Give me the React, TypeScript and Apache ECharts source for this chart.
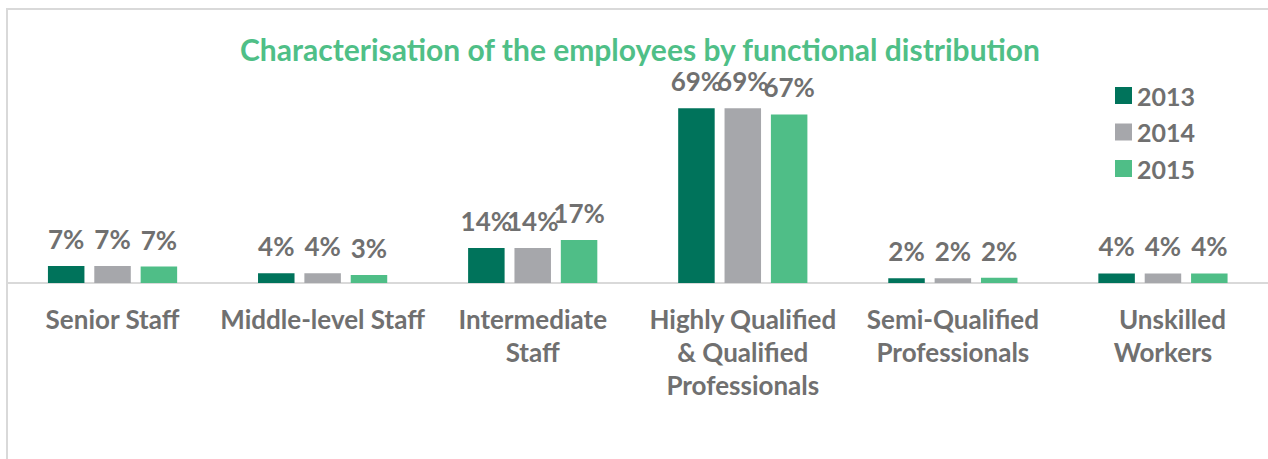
import React, { useEffect, useRef } from "react";
import * as echarts from "echarts";

const categories = [
  "Senior Staff",
  "Middle-level Staff",
  "Intermediate\nStaff",
  "Highly Qualified\n& Qualified\nProfessionals",
  "Semi-Qualified\nProfessionals",
  "   Unskilled\nWorkers",
];
const seriesNames = ["2013", "2014", "2015"];
const values2013 = [6.7, 3.9, 13.8, 69.0, 1.9, 3.8];
const values2014 = [6.7, 3.9, 13.8, 69.0, 1.9, 3.8];
const values2015 = [6.5, 3.2, 17.0, 66.6, 2.1, 3.8];
const colors = ["#00735B", "#A6A7AB", "#4FBE87"];
const titleText = "Characterisation of the employees by functional distribution";

const FONT = "Lato, 'Open Sans', sans-serif";
const GRAY = "#707070";

export default function App() {
  const ref = useRef<HTMLDivElement>(null);
  useEffect(() => {
    if (!ref.current) return;
    const chart = echarts.init(ref.current, null, { renderer: "svg" });
    const data = [values2013, values2014, values2015];
    chart.setOption({
      animation: false,
      backgroundColor: "#ffffff",
      textStyle: { fontFamily: FONT },
      title: {
        text: titleText,
        left: 635,
        textAlign: "center",
        top: 29,
        textStyle: { color: "#4FBF87", fontSize: 30, fontWeight: "bold", fontFamily: FONT },
      },
      legend: {
        orient: "vertical",
        left: 1110,
        top: 78,
        itemWidth: 17,
        itemHeight: 17,
        itemGap: 11.5,
        itemTextGap: 8,
        icon: "rect",
        textStyle: { color: GRAY, fontSize: 25, fontWeight: "bold", fontFamily: FONT },
        data: seriesNames,
      },
      graphic: [
        {
          type: "rect",
          shape: { x: 7, y: 9, width: 1400, height: 600 },
          style: { fill: "none", stroke: "#D9D9D9", lineWidth: 2 },
          silent: true,
          z: 100,
        },
      ],
      grid: { left: 7.5, width: 1266, top: 80.5, height: 202.5, containLabel: false },
      xAxis: {
        type: "category",
        data: categories,
        axisLine: { lineStyle: { color: "#D9D9D9", width: 2 } },
        axisTick: { show: false },
        axisLabel: {
          interval: 0,
          color: GRAY,
          fontSize: 26,
          fontWeight: "bold",
          fontFamily: FONT,
          lineHeight: 33,
          margin: 19,
        },
      },
      yAxis: { type: "value", min: 0, max: 80, show: false, splitLine: { show: false } },
      series: seriesNames.map((name, i) => ({
        name,
        type: "bar",
        data: data[i],
        barWidth: 36.5,
        barGap: "27%",
        itemStyle: { color: colors[i] },
        label: {
          show: true,
          position: "top",
          distance: 14,
          color: GRAY,
          fontSize: 26,
          fontWeight: "bold",
          fontFamily: FONT,
          formatter: (p: any) => Math.round(p.value) + "%",
        },
      })),
    });
    return () => chart.dispose();
  }, []);
  return (
    <div
      ref={ref}
      style={{ position: "absolute", left: 0, top: 0, width: 1268, height: 459 }}
    />
  );
}
